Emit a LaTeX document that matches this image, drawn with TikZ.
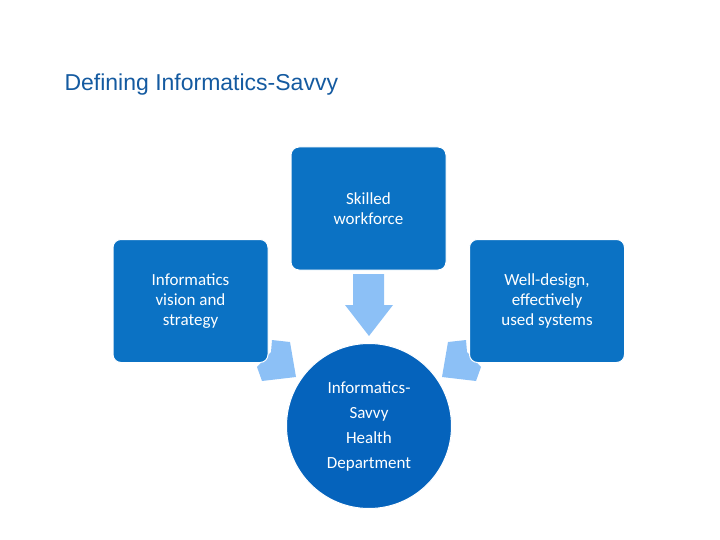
\documentclass[tikz,border=0pt]{standalone}
\usepackage{fontspec}
\setmainfont{Carlito}
\newfontfamily\titlefont{Liberation Sans}
\definecolor{boxc}{HTML}{0B72C4}
\definecolor{circc}{HTML}{0563BC}
\definecolor{arrc}{HTML}{8CC0F6}
\begin{document}
\begin{tikzpicture}[x=1pt,y=-1pt,
  boxs/.style={fill=boxc,draw=white,line width=1pt,rounded corners=8pt,text=white,align=center,font=\fontsize{17}{20}\selectfont,minimum width=155pt,minimum height=123pt,inner sep=0pt},
  arr/.style={fill=arrc,draw=none}]
\useasboundingbox (0,0) rectangle (720,540);
\node[anchor=west,font=\titlefont\fontsize{23}{26}\selectfont,text={rgb,255:red,20;green,90;blue,160}] (title) at (61,85) {Defining Informatics-Savvy};
% side arrows (behind boxes)
\fill[arr] (262,381) -- (257,367) -- (271,352) -- (272,340) -- (290,342) -- (296,377) -- cycle;
\fill[arr] (476,381) -- (481,367) -- (467,352) -- (466,340) -- (448,342) -- (442,377) -- cycle;
\node[boxs] (top) at (368.5,208.5) {Skilled\\workforce};
\node[boxs] (left) at (190.5,301) {Informatics\\vision and\\strategy};
\node[boxs] (right) at (547,301) {Well-design,\\effectively\\used systems};
\fill[arr] (353,274) -- (384,274) -- (384,305) -- (393,305) -- (369,336) -- (345,305) -- (353,305) -- cycle;
\node[circle,fill=circc,draw=white,line width=1pt,minimum size=165pt,inner sep=0pt,text=white,align=center,font=\fontsize{17}{25}\selectfont] (hub) at (369,426) {Informatics-\\Savvy\\Health\\Department};
\end{tikzpicture}
\end{document}
